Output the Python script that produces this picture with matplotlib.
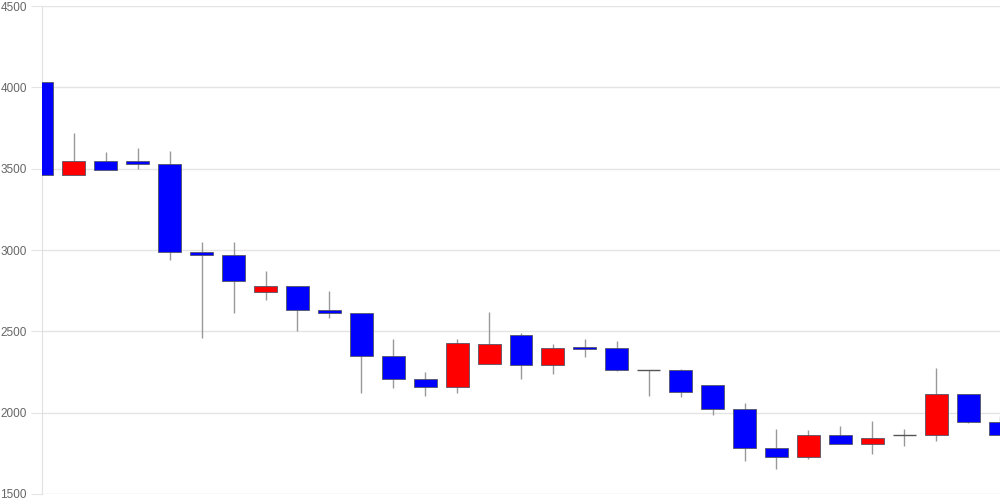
import matplotlib
matplotlib.use("Agg")
import matplotlib.pyplot as plt
from matplotlib.patches import Rectangle

opens  = [4030, 3460, 3550, 3545, 3530, 2990, 2970, 2740, 2780, 2630, 2610, 2350, 2210, 2160, 2300,
          2480, 2290, 2405, 2400, 2265, 2260, 2170, 2020, 1780, 1725, 1865, 1805, 1865, 1865, 2115, 1945]
highs  = [4030, 3720, 3600, 3630, 3610, 3050, 3050, 2870, 2780, 2750, 2610, 2450, 2250, 2450, 2620,
          2490, 2420, 2450, 2440, 2265, 2270, 2170, 2060, 1900, 1895, 1920, 1950, 1900, 2275, 2115, 1980]
lows   = [3460, 3460, 3490, 3500, 2940, 2460, 2610, 2690, 2500, 2580, 2120, 2150, 2100, 2120, 2300,
          2210, 2240, 2340, 2255, 2100, 2095, 1985, 1705, 1655, 1715, 1805, 1745, 1795, 1825, 1935, 1865]
closes = [3460, 3550, 3490, 3530, 2990, 2970, 2810, 2780, 2630, 2610, 2350, 2210, 2160, 2430, 2420,
          2290, 2400, 2390, 2260, 2265, 2130, 2020, 1780, 1725, 1865, 1805, 1845, 1865, 2115, 1945, 1865]
yticks = [1500, 2000, 2500, 3000, 3500, 4000, 4500]

fig = plt.figure(figsize=(10, 5), dpi=100)
ax = fig.add_axes([0.042, 0.012, 0.958, 0.976])

width = 0.72
for i, (o, h, l, c) in enumerate(zip(opens, highs, lows, closes)):
    ax.vlines(i, l, h, color="#999999", linewidth=1.0, zorder=2)
    if o == c:
        ax.hlines(o, i - width / 2, i + width / 2, color="#555555", linewidth=1.0, zorder=3)
        continue
    color = "#ff0000" if c > o else "#0000ff"
    bottom = min(o, c)
    ax.add_patch(Rectangle((i - width / 2, bottom), width, abs(c - o),
                           facecolor=color, edgecolor="#555566", linewidth=0.6, zorder=3))

ax.set_xlim(0, 30)
ax.set_ylim(1500, 4500)
ax.set_yticks(yticks)
ax.set_yticklabels([str(v) for v in yticks], fontsize=8.5, color="#666666", family="Liberation Sans")
ax.set_xticks([])
ax.grid(axis="y", color="#e4e4e4", linewidth=1.0, zorder=0)
ax.tick_params(axis="y", length=8, color="#e4e4e4", pad=3)
for s in ["top", "right", "bottom"]:
    ax.spines[s].set_visible(False)
ax.spines["left"].set_color("#e0e0e0")
ax.set_axisbelow(True)

fig.savefig("out.png", dpi=100)
